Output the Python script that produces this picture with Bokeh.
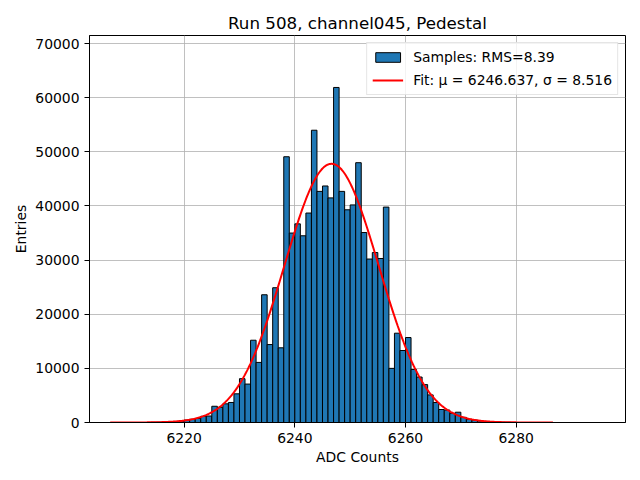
import numpy as np
from bokeh.plotting import figure
from bokeh.models import Legend, LegendItem, Range1d, FixedTicker, BasicTickFormatter
from bokeh.embed import file_html
from bokeh.resources import INLINE

# ---- data ----
bin_left = list(range(6214, 6279))
counts = [40, 60, 90, 130, 190, 280,
          450, 600, 750, 1150, 1200, 3000, 2800, 3450, 3700, 5300,
          8100, 7100, 15200, 11100, 23600, 14400, 24900, 13800, 49100, 35000,
          36700, 34500, 38700, 54000, 42700, 43700, 41500, 61900, 42700, 39300,
          40200, 48000, 35100, 30200, 31400, 30300, 39800, 10000, 16500, 13300,
          15700, 9800, 8400, 7000, 5100, 3700, 2400, 2300, 1700, 1900,
          950, 600, 450, 300, 200, 140, 90, 60, 40]
bin_width = 1
rms = 8.39
fit_mu = 6246.637
fit_sigma = 8.516
fit_peak = 47800
fit_halfspan = 40
x_ticks = [6220, 6240, 6260, 6280]
y_ticks = [0, 10000, 20000, 30000, 40000, 50000, 60000, 70000]

FONT = "DejaVu Sans"

p = figure(width=640, height=480, output_backend="svg", toolbar_location=None,
           x_range=Range1d(6202.9, 6299.75), y_range=Range1d(0, 71500),
           min_border_left=89, min_border_right=15, min_border_top=35,
           min_border_bottom=58)

p.title.text = "Run 508, channel045, Pedestal"
p.title.align = "center"
p.title.text_font = FONT
p.title.text_font_size = "16.7px"
p.title.text_font_style = "normal"
p.title.text_color = "black"
p.title.standoff = 5

lefts = np.array(bin_left, dtype=float)
bars = p.quad(left=lefts, right=lefts + bin_width, bottom=0, top=counts,
              fill_color="#1f77b4", line_color="black", line_width=1)

xf = np.linspace(fit_mu - fit_halfspan, fit_mu + fit_halfspan, 500)
yf = fit_peak * np.exp(-0.5 * ((xf - fit_mu) / fit_sigma) ** 2)
line = p.line(xf, yf, line_color="red", line_width=2)

p.xaxis.ticker = FixedTicker(ticks=x_ticks)
p.yaxis.ticker = FixedTicker(ticks=y_ticks)
p.yaxis.formatter = BasicTickFormatter(use_scientific=False)
p.xaxis.formatter = BasicTickFormatter(use_scientific=False)

p.xaxis.axis_label = "ADC Counts"
p.yaxis.axis_label = "Entries"
for ax in (p.xaxis, p.yaxis):
    ax.axis_label_text_font = FONT
    ax.axis_label_text_font_size = "13.9px"
    ax.axis_label_text_font_style = "normal"
    ax.axis_label_text_color = "black"
    ax.major_label_text_font = FONT
    ax.major_label_text_font_size = "13.9px"
    ax.major_label_text_color = "black"
    ax.major_tick_out = 5
    ax.major_tick_in = 0
    ax.major_tick_line_color = "black"
    ax.minor_tick_line_color = None
    ax.axis_line_color = "black"
    ax.major_label_standoff = 5
p.xaxis.axis_label_standoff = 3
p.yaxis.axis_label_standoff = 3

p.outline_line_color = "black"
p.outline_line_width = 1
p.grid.grid_line_color = "#b0b0b0"
p.grid.grid_line_width = 0.8

legend = Legend(items=[
    LegendItem(label=f"Samples: RMS={rms:.2f}", renderers=[bars]),
    LegendItem(label=f"Fit: μ = {fit_mu:.3f}, σ = {fit_sigma:.3f}", renderers=[line]),
], location="top_right", margin=7, padding=5, spacing=5,
   glyph_width=31, glyph_height=12, label_height=18, label_standoff=10,
   label_text_font=FONT, label_text_font_size="13.9px", label_text_color="black",
   border_line_color="#cccccc", border_line_width=1,
   background_fill_alpha=0.8)
p.add_layout(legend)

open("out.html", "w").write(file_html(p, INLINE))
